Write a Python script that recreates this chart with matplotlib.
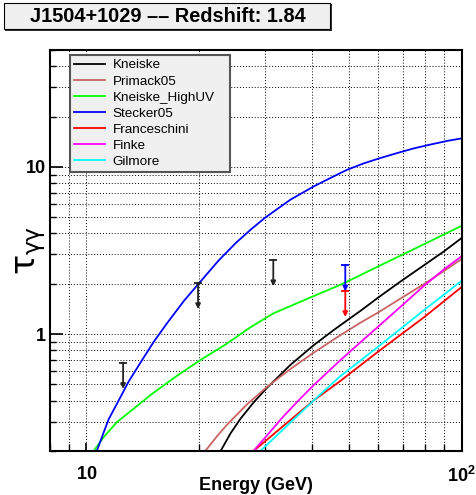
import matplotlib
matplotlib.use("Agg")
import matplotlib.pyplot as plt
from matplotlib.patches import Rectangle
from matplotlib.ticker import LogLocator, FixedLocator, NullFormatter, FixedFormatter

plt.rcParams['font.family'] = ['Liberation Sans', 'DejaVu Sans']
plt.rcParams['mathtext.fontset'] = 'custom'
plt.rcParams['mathtext.rm'] = 'Liberation Sans'
plt.rcParams['mathtext.bf'] = 'Liberation Sans:bold'
plt.rcParams['mathtext.it'] = 'DejaVu Sans'

title_text = "J1504+1029 \u2013\u2013 Redshift: 1.84"
x_label = "Energy (GeV)"
y_label = r"$\tau_{\gamma\gamma}$"

# ---- model curves (Energy in GeV, optical depth) ----
kneiske_E = [22.8, 24.2, 25.7, 27.9, 30.3, 35.0, 40.4, 45.6, 50.0, 53.8, 60.1, 68.7, 79.4, 89.7, 100]
kneiske_tau = [0.2, 0.254, 0.31, 0.39, 0.477, 0.655, 0.86, 1.056, 1.226, 1.378, 1.66, 2.06, 2.58, 3.12, 3.75]

primack_E = [20.75, 22.3, 23.7, 26.8, 30.3, 35.0, 40.4, 47.5, 53.8, 60.1, 68.7, 79.4, 89.7, 100]
primack_tau = [0.2, 0.245, 0.287, 0.38, 0.483, 0.619, 0.776, 0.984, 1.171, 1.35, 1.63, 1.99, 2.38, 2.81]

highuv_E = [10.46, 11.12, 12.07, 13.37, 14.8, 17.27, 20.1, 23.5, 27.4, 31.5, 40.4, 47.5, 60.0, 74.6, 100]
highuv_tau = [0.2, 0.242, 0.298, 0.358, 0.431, 0.555, 0.698, 0.867, 1.1, 1.33, 1.69, 1.97, 2.54, 3.22, 4.44]

stecker_E = [10.66, 11.12, 11.47, 12.07, 12.96, 14.07, 15.12, 16.4, 18.2, 20.1, 22.5, 25.0, 27.5,
             30.0, 35.0, 40.4, 44.8, 49.5, 54.9, 60.8, 67.4, 74.6, 82.6, 91.6, 100]
stecker_tau = [0.2, 0.258, 0.31, 0.384, 0.52, 0.698, 0.899, 1.16, 1.58, 2.05, 2.75, 3.5, 4.24,
               4.98, 6.37, 7.65, 8.6, 9.6, 10.5, 11.3, 12.1, 12.9, 13.6, 14.3, 14.8]

frances_E = [27.9, 40.4, 47.5, 53.8, 60.1, 79.4, 100]
frances_tau = [0.2, 0.402, 0.524, 0.651, 0.789, 1.26, 1.91]

finke_E = [27.9, 33.6, 37.2, 40.4, 47.5, 52.7, 60.1, 68.7, 79.4, 89.7, 100]
finke_tau = [0.2, 0.324, 0.412, 0.496, 0.697, 0.858, 1.113, 1.454, 1.943, 2.435, 2.92]

gilmore_E = [29.1, 40.4, 47.5, 53.8, 60.1, 79.4, 100]
gilmore_tau = [0.2, 0.402, 0.56, 0.695, 0.845, 1.39, 2.08]

series_names = ["Kneiske", "Primack05", "Kneiske_HighUV", "Stecker05",
                "Franceschini", "Finke", "Gilmore"]
series_E = [kneiske_E, primack_E, highuv_E, stecker_E, frances_E, finke_E, gilmore_E]
series_tau = [kneiske_tau, primack_tau, highuv_tau, stecker_tau, frances_tau, finke_tau, gilmore_tau]
series_colors = ["#000000", "#c86464", "#00ff00", "#0000ff", "#ff0000", "#ff00ff", "#00ffff"]

# ---- upper limits ----
ul_E = [12.53, 19.85, 31.5, 49.0, 49.0]
ul_tau = [0.676, 2.03, 2.78, 2.59, 1.82]
ul_colors = ["#222222", "#222222", "#222222", "#0000ff", "#ff0000"]

x_ticks = [10, 100]
x_ticklabels = [r"$\mathbf{10}$", r"$\mathbf{10^{2}}$"]
y_ticks = [1, 10]
y_ticklabels = ["1", "10"]

W, H = 476, 495
fig = plt.figure(figsize=(W / 100, H / 100), dpi=100)
L, R, T, B = 50, 461.5, 50, 451
ax = fig.add_axes([L / W, 1 - B / H, (R - L) / W, (B - T) / H])

for name, E, tau, c in zip(series_names, series_E, series_tau, series_colors):
    ax.plot(E, tau, color=c, lw=1.3, label=name, solid_joinstyle='round')

for E, tau, c in zip(ul_E, ul_tau, ul_colors):
    ax.annotate("", xy=(E, tau), xytext=(0, -19), textcoords='offset points',
                arrowprops=dict(arrowstyle='<|-', color=c, lw=1.3,
                                mutation_scale=7, shrinkA=0, shrinkB=0))
    ax.plot([E], [tau], marker='_', markersize=6, mew=1.3, color=c)

ax.set_xscale('log')
ax.set_yscale('log')
ax.set_xlim(8.0, 100)
ax.set_ylim(0.2, 50)

ax.xaxis.set_major_locator(FixedLocator(x_ticks))
ax.xaxis.set_major_formatter(FixedFormatter(x_ticklabels))
ax.xaxis.set_minor_locator(LogLocator(base=10, subs=range(2, 10), numticks=20))
ax.xaxis.set_minor_formatter(NullFormatter())
ax.yaxis.set_major_locator(FixedLocator(y_ticks))
ax.yaxis.set_major_formatter(FixedFormatter(y_ticklabels))
ax.yaxis.set_minor_locator(LogLocator(base=10, subs=range(2, 10), numticks=20))
ax.yaxis.set_minor_formatter(NullFormatter())

ax.tick_params(axis='both', which='both', direction='in', top=False, right=False)
ax.tick_params(axis='y', which='major', length=9, width=1.2, pad=3, labelsize=13)
ax.tick_params(axis='y', which='minor', length=4.5, width=1.0)
ax.tick_params(axis='x', which='major', length=5.5, width=1.2, pad=11, labelsize=13)
ax.tick_params(axis='x', which='minor', length=5, width=1.0)
for lab in ax.get_yticklabels():
    lab.set_fontweight('bold')

ax.grid(which='both', color='black', linestyle=(0, (1, 2)), linewidth=0.7)
for s in ax.spines.values():
    s.set_linewidth(1.5)

ax.set_xlabel(x_label, fontsize=13, fontweight='bold')
ax.xaxis.set_label_coords(0.5, -0.064)
ax.set_ylabel(y_label, fontsize=24, rotation=90)
ax.yaxis.set_label_coords(-0.004, 0.50)

leg = ax.legend(loc='upper left', bbox_to_anchor=((70 - L) / (R - L), (B - 169) / (B - T),
                                                   160 / (R - L), 114 / (B - T)),
                mode='expand', fontsize=9.7, handlelength=2.3, handletextpad=0.55,
                labelspacing=0.27, borderpad=0.3, borderaxespad=0, fancybox=False,
                framealpha=1, facecolor='#f0f0f0', edgecolor='#555555')
leg.get_frame().set_linewidth(1.5)

# title box
fig.patches.append(Rectangle((5 / W, 1 - 31 / H), 327 / W, 27 / H, transform=fig.transFigure,
                             facecolor='#333333', edgecolor='none', zorder=1))
fig.patches.append(Rectangle((3.5 / W, 1 - 29 / H), 326 / W, 26 / H, transform=fig.transFigure,
                             facecolor='#f0f0f0', edgecolor='black', lw=0.8, zorder=2))
fig.text(168 / W, 1 - 17 / H, title_text, fontsize=14.4, fontweight='bold',
         ha='center', va='center', zorder=3)

fig.savefig("out.png", dpi=100)
